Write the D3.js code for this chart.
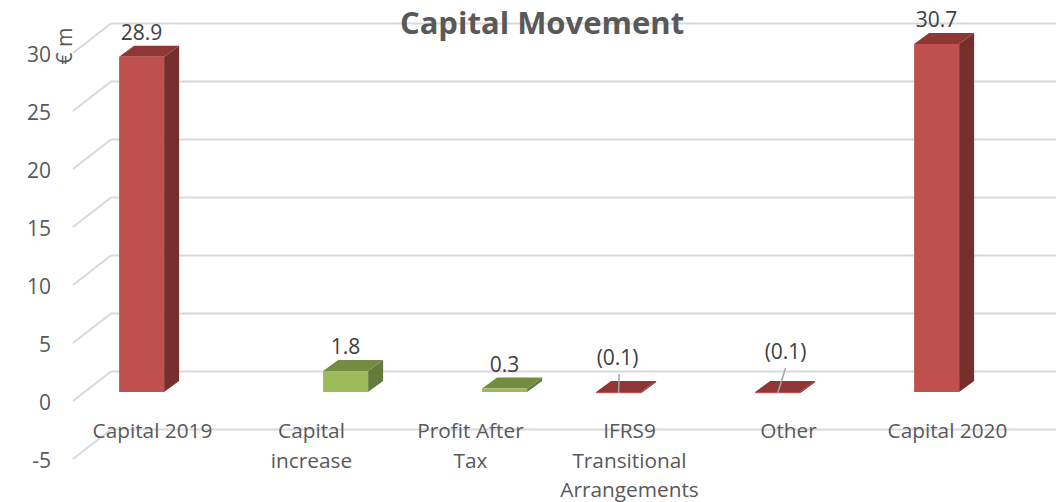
<!DOCTYPE html>
<html>
<head>
<meta charset="utf-8">
<script src="https://cdn.jsdelivr.net/npm/d3@7"></script>
<style>
  html, body { margin: 0; padding: 0; background: #fff; }
  svg { display: block; }
  text { font-family: "Open Sans", sans-serif; }
</style>
</head>
<body>
<div id="chart"></div>
<script>
var categories = ["Capital 2019", "Capital increase", "Profit After Tax", "IFRS9 Transitional Arrangements", "Other", "Capital 2020"];
var categoryLines = [["Capital 2019"], ["Capital", "increase"], ["Profit After", "Tax"], ["IFRS9", "Transitional", "Arrangements"], ["Other"], ["Capital 2020"]];
var redValues = [28.9, null, null, -0.1, -0.1, 30.7];
var greenValues = [null, 1.8, 0.3, null, null, null];
var yTicks = [-5, 0, 5, 10, 15, 20, 25, 30];

var width = 1056, height = 502;
var plotLeft = 73, plotRight = 1027;

// 3d offsets: wall is behind the front plane, bars sit between them
var wall = { dx: 38, dy: -29.5 };
var barShift = { dx: 11.6, dy: -9 };
var barDepth = { dx: 15, dy: -11 };

var palette = {
    red: { front: "#C0504D", top: "#8E3735", side: "#772F2D" },
    green: { front: "#9BBB59", top: "#738C42", side: "#657B3B" }
};

var svg = d3.select("#chart").append("svg").attr("width", width).attr("height", height);

var x = d3.scaleBand().domain(categories).range([plotLeft, plotRight]);
var slot = d3.scaleBand().domain(["red", "green"]).range([0, 90]);
// the axis stops at 30, so the 30.7 bar gets cut there like in the original
var y = d3.scaleLinear().domain([-5, 30]).range([459, 53]).clamp(true);

// gridlines on the wall and the floor edge
var grid = svg.append("g").attr("class", "grid");
grid.selectAll(".wall-line").data(yTicks).enter().append("line")
    .attr("class", "wall-line")
    .attr("x1", plotLeft + wall.dx).attr("x2", width)
    .attr("y1", function (d) { return y(d) + wall.dy; })
    .attr("y2", function (d) { return y(d) + wall.dy; })
    .attr("stroke", "#D9D9D9").attr("stroke-width", 2);
grid.selectAll(".side-line").data(yTicks).enter().append("line")
    .attr("class", "side-line")
    .attr("x1", plotLeft).attr("x2", plotLeft + wall.dx)
    .attr("y1", function (d) { return y(d); })
    .attr("y2", function (d) { return y(d) + wall.dy; })
    .attr("stroke", "#D9D9D9").attr("stroke-width", 2);

var yAxis = svg.append("g")
    .attr("transform", "translate(" + plotLeft + ",2)")
    .call(d3.axisLeft(y).tickValues(yTicks).tickSize(0).tickPadding(22).tickFormat(function (d) { return String(d); }));
yAxis.select(".domain").remove();
yAxis.selectAll("text").attr("fill", "#595959").style("font-size", "21px").style("font-family", "'Open Sans', sans-serif");

function polygon(points) {
    return points.map(function (p) { return p.join(","); }).join(" ");
}

function seriesBars(series, values) {
    var rows = categories.map(function (c, i) { return { category: c, value: values[i], series: series }; })
        .filter(function (d) { return d.value !== null; });
    rows.forEach(function (d) {
        d.x0 = x(d.category) + x.bandwidth() / 2 + barShift.dx - 45 + slot(series);
        d.x1 = d.x0 + slot.bandwidth();
        d.base = y(0) + barShift.dy;
        d.end = y(d.value) + barShift.dy;
        d.top = Math.min(d.base, d.end);
        d.bottom = Math.max(d.base, d.end);
    });
    return rows;
}

var allBars = seriesBars("red", redValues).concat(seriesBars("green", greenValues));

var bars = svg.append("g").selectAll(".bar").data(allBars).enter().append("g").attr("class", "bar");

bars.append("polygon")
    .attr("fill", function (d) { return palette[d.series].side; })
    .attr("points", function (d) {
        return polygon([[d.x1, d.top], [d.x1 + barDepth.dx, d.top + barDepth.dy], [d.x1 + barDepth.dx, d.bottom + barDepth.dy], [d.x1, d.bottom]]);
    });
bars.append("polygon")
    .attr("fill", function (d) { return palette[d.series].top; })
    .attr("points", function (d) {
        return polygon([[d.x0, d.top], [d.x0 + barDepth.dx, d.top + barDepth.dy], [d.x1 + barDepth.dx, d.top + barDepth.dy], [d.x1, d.top]]);
    });
bars.append("rect")
    .attr("fill", function (d) { return palette[d.series].front; })
    .attr("x", function (d) { return d.x0; })
    .attr("y", function (d) { return d.top; })
    .attr("width", slot.bandwidth())
    .attr("height", function (d) { return d.bottom - d.top; });

// the two (0.1) labels were dragged up in the original and have leader lines
var labelNudge = {
    "IFRS9 Transitional Arrangements": { dx: -1, dy: -10, leader: [0.5, 374] },
    "Other": { dx: 8, dy: -16, leader: [8, 368] }
};

function labelText(v) {
    return v < 0 ? "(" + Math.abs(v).toFixed(1) + ")" : v.toFixed(1);
}

allBars.forEach(function (d) {
    var nudge = labelNudge[d.category] || { dx: 0, dy: 0 };
    var cx = (d.x0 + d.x1) / 2;
    if (nudge.leader) {
        svg.append("line")
            .attr("x1", cx + nudge.leader[0]).attr("y1", nudge.leader[1])
            .attr("x2", cx).attr("y2", d.bottom)
            .attr("stroke", "#A6A6A6").attr("stroke-width", 1.5);
    }
    svg.append("text")
        .attr("class", "data-label")
        .attr("x", cx + nudge.dx)
        .attr("y", d.top + barDepth.dy - 13 + nudge.dy)
        .attr("dy", "0.35em")
        .attr("text-anchor", "middle")
        .attr("fill", "#404040")
        .style("font-size", "21px")
        .text(labelText(d.value));
});

svg.append("g").selectAll("text").data(categories).enter().append("text")
    .attr("text-anchor", "middle")
    .attr("fill", "#595959")
    .style("font-size", "20.8px")
    .each(function (c, i) {
        d3.select(this).selectAll("tspan").data(categoryLines[i]).enter().append("tspan")
            .attr("x", x(c) + x.bandwidth() / 2)
            .attr("y", function (d, j) { return 438 + j * 29.5; })
            .text(function (d) { return d; });
    });

svg.append("text")
    .attr("x", 542).attr("y", 34)
    .attr("text-anchor", "middle")
    .attr("fill", "#595959")
    .style("font-size", "31px")
    .style("font-weight", "700")
    .text("Capital Movement");

svg.append("text")
    .attr("transform", "translate(72,46) rotate(-90)")
    .attr("text-anchor", "middle")
    .attr("fill", "#595959")
    .style("font-size", "21px")
    .text("€ m");
</script>
</body>
</html>
